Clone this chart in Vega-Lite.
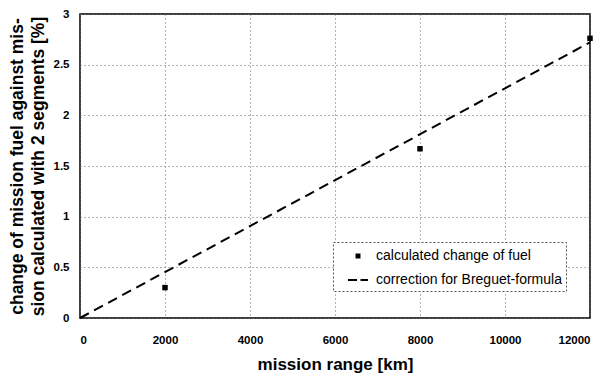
{
  "$schema": "https://vega.github.io/schema/vega-lite/v6.json",
  "autosize": "none",
  "width": 510,
  "height": 304,
  "padding": {"left": 80, "top": 14, "right": 17, "bottom": 55},
  "background": "white",
  "config": {
    "font": "Liberation Sans",
    "view": {"stroke": "black", "strokeWidth": 1.5},
    "legend": {"strokeDash": [2, 2]},
    "axis": {
      "domain": false,
      "ticks": false,
      "grid": true,
      "gridColor": "#666",
      "gridDash": [1, 3],
      "gridWidth": 1,
      "labelFont": "Liberation Sans",
      "labelFontWeight": "bold",
      "labelFontSize": 11.5,
      "labelColor": "black",
      "titleFont": "Liberation Sans",
      "titleFontWeight": "bold",
      "titleFontSize": 17,
      "titleColor": "black"
    }
  },
  "datasets": {
    "calc": [
      {"range": 2000, "change": 0.3, "series": "calculated change of fuel"},
      {"range": 8000, "change": 1.67, "series": "calculated change of fuel"},
      {"range": 12000, "change": 2.76, "series": "calculated change of fuel"}
    ],
    "breguet": [
      {"range": 0, "change": 0.0},
      {"range": 12000, "change": 2.72}
    ]
  },
  "layer": [
    {
      "data": {"name": "breguet"},
      "mark": {"type": "line", "color": "black", "strokeWidth": 2, "strokeDash": [10, 6]},
      "encoding": {
        "x": {
          "field": "range", "type": "quantitative",
          "scale": {"domain": [0, 12000], "nice": false},
          "axis": {"values": [0, 2000, 4000, 6000, 8000, 10000, 12000], "format": "d", "labelPadding": 16, "title": "mission range [km]", "titlePadding": 11}
        },
        "y": {
          "field": "change", "type": "quantitative",
          "scale": {"domain": [0, 3], "nice": false},
          "axis": {"values": [0, 0.5, 1, 1.5, 2, 2.5, 3], "format": "~g", "labelPadding": 11, "title": ["change of mission fuel against mis-", "sion calculated with 2 segments [%]"], "titleFontSize": 17.5, "titlePadding": 6, "titleLineHeight": 21}
        }
      }
    },
    {
      "data": {"name": "calc"},
      "mark": {"type": "point", "filled": true, "color": "black", "size": 480, "opacity": 1},
      "encoding": {
        "x": {"field": "range", "type": "quantitative"},
        "y": {"field": "change", "type": "quantitative"},
        "shape": {
          "field": "series", "type": "nominal",
          "scale": {
            "domain": ["calculated change of fuel", "correction for Breguet-formula"],
            "range": ["M-0.25,-0.25H0.25V0.25H-0.25Z", "M-1,-0.1H-0.1V0.1H-1ZM0.25,-0.1H1V0.1H0.25Z"]
          },
          "legend": {
            "title": null,
            "orient": "none",
            "legendX": 253,
            "legendY": 228,
            "padding": 4,
            "strokeColor": "#555",
            "fillColor": "white",
            "labelFont": "Liberation Sans",
            "labelFontSize": 14,
            "labelColor": "black",
            "labelLimit": 400,
            "symbolSize": 400,
            "symbolOffset": 11,
            "symbolFillColor": "black",
            "symbolStrokeColor": "black",
            "symbolStrokeWidth": 0,
            "rowPadding": 7,
            "labelOffset": 8
          }
        }
      }
    }
  ]
}
